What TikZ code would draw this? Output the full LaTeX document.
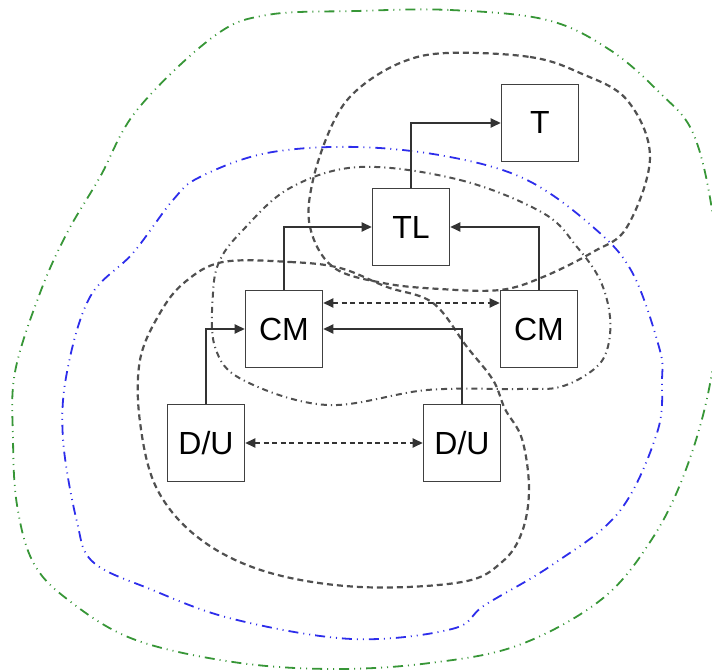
\documentclass[tikz,border=0pt]{standalone}
\usepackage{fontspec}
\setmainfont{Liberation Sans}
\usetikzlibrary{arrows.meta}
\definecolor{zonegreen}{RGB}{55,150,55}
\definecolor{zoneblue}{RGB}{45,45,235}
\definecolor{zonegray}{RGB}{80,80,80}
\tikzset{
  unit/.style={draw=black!75, line width=0.8pt, minimum size=38.5pt, inner sep=0pt, font=\fontsize{16}{19}\selectfont},
  tip/.tip={Triangle[length=5pt,width=4.6pt]},
  link/.style={line width=0.75pt, draw=black!80, -tip},
  peer/.style={line width=0.75pt, draw=black!80, dash pattern=on 2.5pt off 1.8pt, tip-tip},
  outerzone/.style={draw=zonegreen, line width=0.9pt, dash pattern=on 5pt off 2.5pt on 0.5pt off 2.5pt on 0.5pt off 2.5pt},
  innerzone/.style={draw=zoneblue, line width=0.9pt, dash pattern=on 5pt off 2.5pt on 0.5pt off 2.5pt on 0.5pt off 2.5pt},
  group/.style={draw=zonegray, line width=1.1pt, dash pattern=on 3pt off 2pt},
  ring/.style={draw=zonegray, line width=1pt, dash pattern=on 3pt off 2pt on 0.6pt off 2pt},
}
\begin{document}
\begin{tikzpicture}[x=0.5pt, y=-0.5pt]
	\clip (0,0) rectangle (712,672);
	% zones
	\draw[outerzone] plot[smooth cycle, tension=0.6] coordinates {(357,11) (450,10) (547,20) (610,50) (660,93) (693,133) (712,210) (719,300) (709,389) (685,472) (652,539) (602,599) (519,645) (430,663) (333,669) (233,662) (133,639) (67,599) (33,562) (17,505) (13,439) (15,372) (40,293) (67,233) (100,177) (137,110) (213,37) (267,15)};
	\draw[innerzone] plot[smooth cycle, tension=0.6] coordinates {(357,147) (450,157) (527,180) (593,227) (632,272) (659,347) (662,380) (657,433) (619,512) (552,565) (485,605) (452,629) (352,639) (233,619) (150,589) (93,562) (77,522) (63,439) (67,372) (90,297) (133,253) (173,200) (200,177) (267,153)};
	\draw[group] plot[smooth cycle, tension=0.6] coordinates {(447,53) (530,57) (580,73) (627,100) (650,157) (627,227) (593,252) (543,277) (500,290) (440,289) (383,283) (333,267) (310,227) (313,180) (333,123) (357,90) (400,63)};
	\draw[ring] plot[smooth cycle, tension=0.6] coordinates {(360,167) (460,180) (543,213) (577,247) (600,280) (610,317) (607,350) (593,370) (560,387) (519,389) (427,390) (327,405) (243,380) (215,347) (213,293) (220,260) (243,230) (290,188)};
	\draw[group] plot[smooth cycle, tension=0.6] coordinates {(223,262) (290,262) (340,268) (387,287) (433,303) (467,347) (493,380) (505,409) (522,439) (529,489) (522,532) (502,562) (462,582) (360,587) (267,572) (200,539) (157,489) (140,422) (140,360) (160,313) (185,282)};
	% units
	\node (T) at (540,123) [unit, fill=white] {T};
	\node (TL) at (411,227) [unit, fill=white] {TL};
	\node (CMa) at (284,329) [unit, fill=white] {CM};
	\node (CMb) at (539,329) [unit, fill=white] {CM};
	\node (DUa) at (206,443) [unit, fill=white] {D/U};
	\node (DUb) at (462,443) [unit, fill=white] {D/U};
	% links
	\draw[link] (TL) |- (T);
	\draw[link] (CMa) |- (TL);
	\draw[link] (CMb) |- (TL);
	\draw[link] (DUa) |- (CMa);
	\draw[link] (DUb) |- (CMa);
	\draw[peer] ([yshift=13pt]CMa.east) -- ([yshift=13pt]CMb.west);
	\draw[peer] (DUa) -- (DUb);
\end{tikzpicture}
\end{document}
